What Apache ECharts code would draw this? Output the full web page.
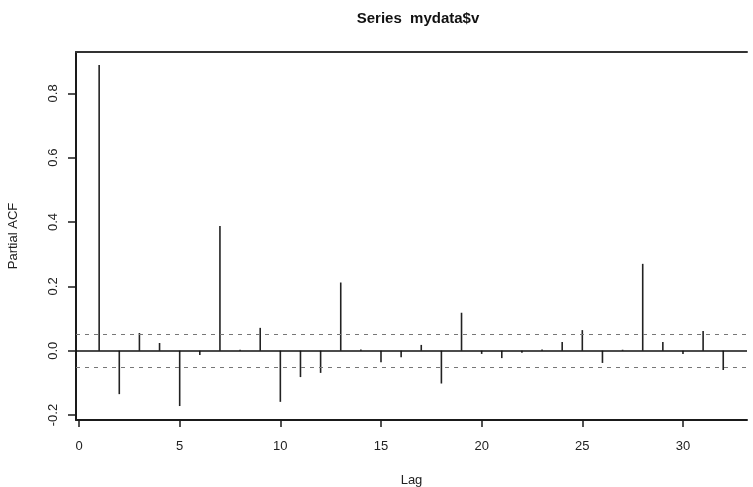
<!DOCTYPE html>
<html>
<head>
<meta charset="utf-8">
<script src="https://cdn.jsdelivr.net/npm/echarts@6/dist/echarts.min.js"></script>
<style>
html,body{margin:0;padding:0;background:#fff;}
#chart{width:753px;height:487px;}
</style>
</head>
<body>
<div id="chart"></div>
<script>
// Data
const lags = [1,2,3,4,5,6,7,8,9,10,11,12,13,14,15,16,17,18,19,20,21,22,23,24,25,26,27,28,29,30,31,32];
const pacf = [0.888,-0.135,0.055,0.024,-0.172,-0.013,0.388,0.003,0.071,-0.159,-0.082,-0.069,0.212,0.004,-0.036,-0.02,0.018,-0.102,0.118,-0.01,-0.023,-0.006,0.004,0.027,0.064,-0.038,0.003,0.27,0.027,-0.01,0.061,-0.06];
const ciLimit = 0.047;
const xTicks = [0,5,10,15,20,25,30];
const yTicks = [-0.2,0.0,0.2,0.4,0.6,0.8];
const titleText = 'Series  mydata$v';
const xName = 'Lag';
const yName = 'Partial ACF';

const FONT = "'Liberation Sans', Arial, sans-serif";
const chart = echarts.init(document.getElementById('chart'), null, {renderer:'canvas'});
const pts = lags.map((l,i)=>[l,pacf[i]]);
const axisColor = '#1a1a1a';
const textColor = '#222';

chart.setOption({
  animation:false,
  backgroundColor:'#fff',
  title:{
    text:titleText, left:413, top:6, textAlign:'center',
    textStyle:{fontFamily:FONT,fontSize:15,fontWeight:'bold',color:'#111'}
  },
  grid:{left:76,right:6,top:52,bottom:67,containLabel:false,outerBoundsMode:'none'},
  xAxis:[{
    type:'value', min:-0.15, max:33.18, position:'bottom',
    name:xName, nameLocation:'middle', nameGap:54,
    nameTextStyle:{fontFamily:FONT,fontSize:13,color:textColor},
    axisLine:{show:true,onZero:false,lineStyle:{color:axisColor,width:2}},
    axisTick:{show:true,length:7,customValues:xTicks,lineStyle:{color:axisColor,width:1.5}},
    axisLabel:{customValues:xTicks,margin:20,fontFamily:FONT,fontSize:13,color:textColor},
    splitLine:{show:false}
  },{
    type:'value', min:-0.15, max:33.18, position:'top',
    axisLine:{show:true,onZero:false,lineStyle:{color:'#333',width:2}},
    axisTick:{show:false}, axisLabel:{show:false}, splitLine:{show:false}
  }],
  yAxis:{
    type:'value', min:-0.2154, max:0.9285,
    name:yName, nameLocation:'middle', nameGap:56,
    nameTextStyle:{fontFamily:FONT,fontSize:13,color:textColor},
    axisLine:{show:true,onZero:false,lineStyle:{color:axisColor,width:2}},
    axisTick:{show:true,length:8,customValues:yTicks,lineStyle:{color:axisColor,width:1.5}},
    axisLabel:{customValues:yTicks,rotate:90,margin:16,fontFamily:FONT,fontSize:13,color:textColor,
      formatter:v=>v.toFixed(1)},
    splitLine:{show:false}
  },
  series:[{
    type:'custom',
    xAxisIndex:0,
    data:pts,
    renderItem:function(params,api){
      const x=api.value(0), y=api.value(1);
      const p0=api.coord([x,0]), p1=api.coord([x,y]);
      return {type:'line',shape:{x1:p0[0],y1:p0[1],x2:p1[0],y2:p1[1]},
        style:{stroke:'#222',lineWidth:1.6}};
    },
    markLine:{
      silent:true, symbol:['none','none'], label:{show:false},
      data:[
        {yAxis:0,lineStyle:{type:'solid',color:'#111',width:1.6}},
        {yAxis:ciLimit,lineStyle:{type:[4,5],color:'#777',width:1.2}},
        {yAxis:-ciLimit,lineStyle:{type:[4,5],color:'#777',width:1.2}}
      ]
    }
  }]
});
</script>
</body>
</html>
